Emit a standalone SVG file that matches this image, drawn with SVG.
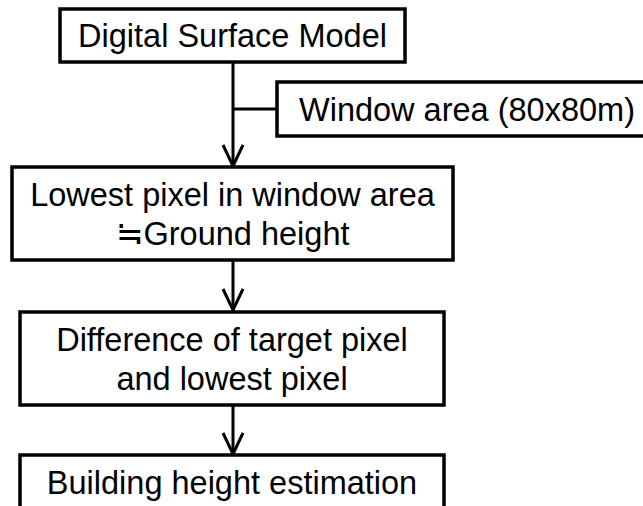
<svg xmlns="http://www.w3.org/2000/svg" width="643" height="506" viewBox="0 0 643 506">
  <style>
    .box { fill: #ffffff; stroke: #000000; stroke-width: 3.5; }
    .lbl { font-family: "Liberation Sans", Arial, "Noto Sans CJK JP", sans-serif; font-size: 32.5px; fill: #000000; }
    .mid { text-anchor: middle; }
    .wire { fill: none; stroke: #000000; stroke-width: 3; }
  </style>
  <rect width="643" height="506" fill="#ffffff"/>

  <!-- connectors -->
  <g id="connectors">
    <path class="wire" d="M233 62 V166 M233 109 H277"/>
    <path class="wire" d="M223 145 L233 166 L243 145"/>
    <path class="wire" d="M233 260 V310"/>
    <path class="wire" d="M223 289 L233 310 L243 289"/>
    <path class="wire" d="M233 405 V454"/>
    <path class="wire" d="M223 433 L233 454 L243 433"/>
  </g>

  <g id="dsm">
    <rect class="box" x="60" y="9" width="345" height="53"/>
    <text class="lbl mid" x="232.5" y="47">Digital Surface Model</text>
  </g>

  <g id="window">
    <rect class="box" x="277" y="82" width="372" height="54"/>
    <text class="lbl" x="299" y="121">Window area (80x80m)</text>
  </g>

  <g id="ground">
    <rect class="box" x="12" y="167" width="441" height="93"/>
    <text class="lbl mid" x="232.5" y="206">Lowest pixel in window area</text>
    <text class="lbl mid" x="232.5" y="245">≒Ground height</text>
  </g>

  <g id="difference">
    <rect class="box" x="20" y="312" width="424" height="93"/>
    <text class="lbl mid" x="232" y="351">Difference of target pixel</text>
    <text class="lbl mid" x="232" y="390">and lowest pixel</text>
  </g>

  <g id="estimation">
    <rect class="box" x="20" y="455" width="424" height="60"/>
    <text class="lbl mid" x="232" y="494">Building height estimation</text>
  </g>
</svg>
